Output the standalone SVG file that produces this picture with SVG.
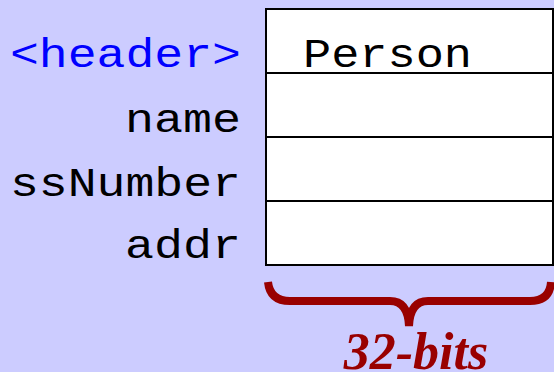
<svg xmlns="http://www.w3.org/2000/svg" width="554" height="372" viewBox="0 0 554 372">
<style>
.lbl{font-family:"Liberation Mono","Courier New",monospace;font-size:41px;fill:#000;text-anchor:end}
.cell{fill:#fff;stroke:#000;stroke-width:2}
</style>
<rect width="554" height="372" fill="#ccccff"/>
<g id="labels">
<text class="lbl" x="241" y="67" style="fill:#0000ff" textLength="231" lengthAdjust="spacingAndGlyphs">&lt;header&gt;</text>
<text class="lbl" x="241" y="132" textLength="116" lengthAdjust="spacingAndGlyphs">name</text>
<text class="lbl" x="241" y="196" textLength="231" lengthAdjust="spacingAndGlyphs">ssNumber</text>
<text class="lbl" x="241" y="258" textLength="116" lengthAdjust="spacingAndGlyphs">addr</text>
</g>
<g id="record">
<rect class="cell" x="266" y="9" width="287" height="64"/>
<rect class="cell" x="266" y="73" width="287" height="64"/>
<rect class="cell" x="266" y="137" width="287" height="64"/>
<rect class="cell" x="266" y="201" width="287" height="64"/>
<text x="303" y="67" style="font-family:'Liberation Mono','Courier New',monospace;font-size:41px" textLength="169" lengthAdjust="spacingAndGlyphs">Person</text>
</g>
<g id="brace">
<path d="M268,282 Q270,301 290,301 L390,301 Q408,301 409,326 Q410,301 428,301 L530,301 Q550,301 551,282" fill="none" stroke="#990000" stroke-width="8"/>
<text x="416" y="369" text-anchor="middle" style="font-family:'Liberation Serif','Times New Roman',serif;font-size:52px;font-weight:bold;font-style:italic;fill:#990000">32-bits</text>
</g>
</svg>
